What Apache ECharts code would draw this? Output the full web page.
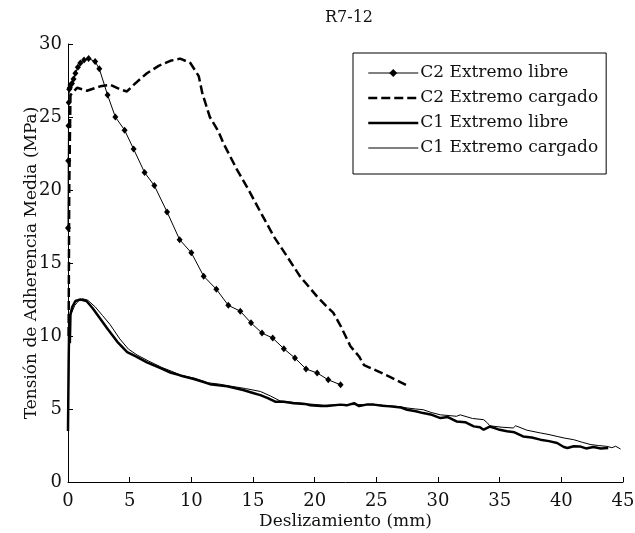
<!DOCTYPE html>
<html>
<head>
<meta charset="utf-8">
<title>R7-12</title>
<script src="https://cdn.jsdelivr.net/npm/echarts@6/dist/echarts.min.js"></script>
<style>
	html, body { margin: 0; padding: 0; background: #fff; }
	.echarts_1 { width: 635px; height: 533px; }
</style>
</head>
<body>
<div class="echarts_1"></div>
<script>
//数据 [deslizamiento (mm), tensión (MPa)]
var xTicks = [0, 5, 10, 15, 20, 25, 30, 35, 40, 45];
var yTicks = [0, 5, 10, 15, 20, 25, 30];
var seriesNames = ['C2 Extremo libre', 'C2 Extremo cargado', 'C1 Extremo libre', 'C1 Extremo cargado'];

var c2Libre = [
	[0,17.4],[0.02,22],[0.04,24.4],[0.06,26.0],[0.1,26.9],[0.15,27.0],[0.2,27.2],[0.32,27.3],
	[0.45,27.6],[0.6,28.0],[0.8,28.4],[1.0,28.7],[1.3,28.9],[1.67,29.0],[2.2,28.8],[2.54,28.3],
	[3.21,26.5],[3.84,25.0],[4.59,24.1],[5.32,22.8],[6.21,21.2],[7.0,20.3],[8.03,18.5],
	[9.05,16.6],[10.0,15.7],[11.0,14.1],[12.03,13.2],[13.0,12.1],[13.97,11.7],[14.84,10.9],
	[15.73,10.2],[16.6,9.86],[17.5,9.13],[18.4,8.49],[19.3,7.74],[20.2,7.47],[21.1,7.0],[22.1,6.66]
];

var c2Cargado = [
	[0.05,10],[0.1,20],[0.2,26.5],[0.73,27.0],[1.54,26.8],[2.62,27.1],[3.43,27.2],[4.2,26.9],
	[4.78,26.75],[5.32,27.2],[6.4,28.0],[7.35,28.5],[8.3,28.85],[9.1,29.0],[9.92,28.7],
	[10.6,27.8],[10.9,26.6],[11.5,25.0],[12.2,24.0],[12.6,23.2],[13.7,21.4],[14.65,20.0],
	[15.6,18.5],[16.7,16.8],[17.76,15.45],[18.8,14.1],[20.2,12.7],[21.0,12.0],[21.5,11.6],
	[22.1,10.7],[22.9,9.3],[23.6,8.6],[24.0,8.0],[25.1,7.6],[26.1,7.2],[27.4,6.66]
];

var c1Libre = [
	[0,3.5],[0.05,8],[0.1,11],[0.15,9.5],[0.2,11.5],[0.35,12.0],[0.6,12.4],[1.0,12.5],[1.5,12.4],
	[2.0,11.9],[2.6,11.2],[3.2,10.5],[4.0,9.6],[4.8,8.9],[5.5,8.6],[6.4,8.2],[7.5,7.8],[8.3,7.5],
	[9.1,7.3],[10.2,7.05],[11.0,6.85],[11.5,6.7],[12.9,6.55],[14.2,6.3],[15.0,6.1],[15.6,5.95],
	[16.2,5.75],[16.8,5.5],[17.5,5.5],[18.3,5.4],[19.2,5.35],[19.65,5.25],[20.5,5.2],[21.0,5.2],
	[22.1,5.3],[22.6,5.25],[23.2,5.4],[23.6,5.2],[24.2,5.3],[24.8,5.3],[25.5,5.22],[26.1,5.18],
	[27.0,5.1],[27.5,4.95],[28.2,4.85],[28.8,4.72],[29.5,4.6],[30.2,4.38],[30.8,4.45],[31.5,4.15],
	[32.2,4.1],[32.9,3.81],[33.4,3.75],[33.7,3.58],[34.2,3.8],[34.9,3.6],[35.6,3.47],[36.2,3.4],
	[36.9,3.12],[37.6,3.05],[38.3,2.9],[39.0,2.8],[39.66,2.67],[40.2,2.4],[40.5,2.33],[41.0,2.45],
	[41.5,2.44],[42.0,2.3],[42.6,2.4],[43.2,2.3],[43.8,2.33]
];

var c1Cargado = [
	[0,3.5],[0.08,9],[0.15,11.3],[0.3,11.6],[0.55,12.1],[0.9,12.45],[1.2,12.55],[1.6,12.45],
	[2.2,12.0],[2.8,11.4],[3.4,10.8],[4.2,9.8],[4.9,9.1],[5.6,8.7],[6.5,8.3],[7.6,7.85],[8.5,7.55],
	[9.2,7.3],[10.3,7.1],[11.3,6.8],[12.3,6.7],[13.3,6.55],[14.4,6.4],[15.6,6.2],[16.4,5.9],
	[17.2,5.55],[18.3,5.45],[19.5,5.35],[20.8,5.25],[22.0,5.3],[23.0,5.3],[24.5,5.3],[25.6,5.25],
	[26.5,5.2],[27.5,5.07],[28.2,5.0],[28.8,4.95],[29.5,4.75],[30.2,4.6],[30.9,4.55],[31.5,4.5],
	[31.8,4.6],[32.8,4.35],[33.7,4.27],[34.0,4.05],[34.2,3.85],[35.2,3.75],[36.1,3.7],[36.3,3.85],
	[37.2,3.55],[38.3,3.36],[39.0,3.25],[39.66,3.12],[40.3,3.0],[41.0,2.9],[41.7,2.72],[42.4,2.56],
	[43.0,2.5],[43.7,2.44],[44.1,2.35],[44.4,2.45],[44.8,2.26]
];

var serif = 'DejaVu Serif';
var ink = '#111';
var dash = [9, 4];

// 基于准备好的dom，初始化echarts实例
var echarts_1 = echarts.init(document.querySelector('.echarts_1'));

var option1 = {
	animation: false,
	backgroundColor: '#fff',
	//大标题
	title: {
		text: 'R7-12',
		left: 344,
		top: 5,
		textAlign: 'center',
		textStyle: { fontFamily: serif, fontSize: 16, fontWeight: 'normal', color: ink }
	},
	//图例 (没有符号的线隐藏圆点)
	legend: {
		data: [
			{ name: seriesNames[0], itemStyle: { color: '#000' }, lineStyle: { width: 1 } },
			{ name: seriesNames[1], itemStyle: { opacity: 0 }, lineStyle: { width: 2.5, type: dash } },
			{ name: seriesNames[2], itemStyle: { opacity: 0 }, lineStyle: { width: 2.5 } },
			{ name: seriesNames[3], itemStyle: { opacity: 0 }, lineStyle: { width: 1 } }
		],
		orient: 'vertical',
		left: 353,
		top: 53,
		padding: [10, 8, 16, 14],
		itemGap: 5,
		itemWidth: 50,
		itemHeight: 10,
		borderColor: '#000',
		borderWidth: 1,
		backgroundColor: '#fff',
		textStyle: { fontFamily: serif, fontSize: 17, color: ink, lineHeight: 20, padding: [0, 0, 0, -3] }
	},
	grid: { left: 68, right: 12, top: 44, bottom: 51, outerBoundsMode: 'none' },
	xAxis: {
		type: 'value',
		min: xTicks[0],
		max: xTicks[xTicks.length - 1],
		interval: 5,
		name: 'Deslizamiento (mm)',
		nameLocation: 'middle',
		nameGap: 31,
		nameMoveOverlap: false,
		nameTextStyle: { fontFamily: serif, fontSize: 17, color: ink, verticalAlign: 'top' },
		axisLine: { lineStyle: { color: '#000', width: 1 } },
		axisTick: { inside: true, length: 5, lineStyle: { color: '#000' } },
		axisLabel: { fontFamily: serif, fontSize: 18, color: ink, margin: 10 },
		splitLine: { show: false }
	},
	yAxis: {
		type: 'value',
		min: yTicks[0],
		max: yTicks[yTicks.length - 1],
		interval: 5,
		name: 'Tensión de Adherencia Media (MPa)',
		nameLocation: 'middle',
		nameGap: 28,
		nameMoveOverlap: false,
		nameTextStyle: { fontFamily: serif, fontSize: 17, color: ink },
		axisLine: { show: true, lineStyle: { color: '#000', width: 1 } },
		axisTick: { show: true, inside: true, length: 5, lineStyle: { color: '#000' } },
		axisLabel: { fontFamily: serif, fontSize: 18, color: ink, margin: 6 },
		splitLine: { show: false }
	},
	//数据
	series: [
		{
			name: seriesNames[0],
			type: 'line',
			data: c2Libre,
			symbol: 'diamond',
			symbolSize: [6, 7],
			showSymbol: true,
			itemStyle: { color: '#000' },
			lineStyle: { color: '#000', width: 1 },
			z: 4
		},
		{
			name: seriesNames[1],
			type: 'line',
			data: c2Cargado,
			symbol: 'none',
			itemStyle: { color: '#000' },
			lineStyle: { color: '#000', width: 2.5, type: dash },
			z: 3
		},
		{
			name: seriesNames[2],
			type: 'line',
			data: c1Libre,
			symbol: 'none',
			itemStyle: { color: '#000' },
			lineStyle: { color: '#000', width: 2.5 },
			z: 2
		},
		{
			name: seriesNames[3],
			type: 'line',
			data: c1Cargado,
			symbol: 'none',
			itemStyle: { color: '#000' },
			lineStyle: { color: '#000', width: 1 },
			z: 5
		}
	]
};

// 使用刚指定的配置项和数据显示图表。
echarts_1.setOption(option1);
</script>
</body>
</html>
